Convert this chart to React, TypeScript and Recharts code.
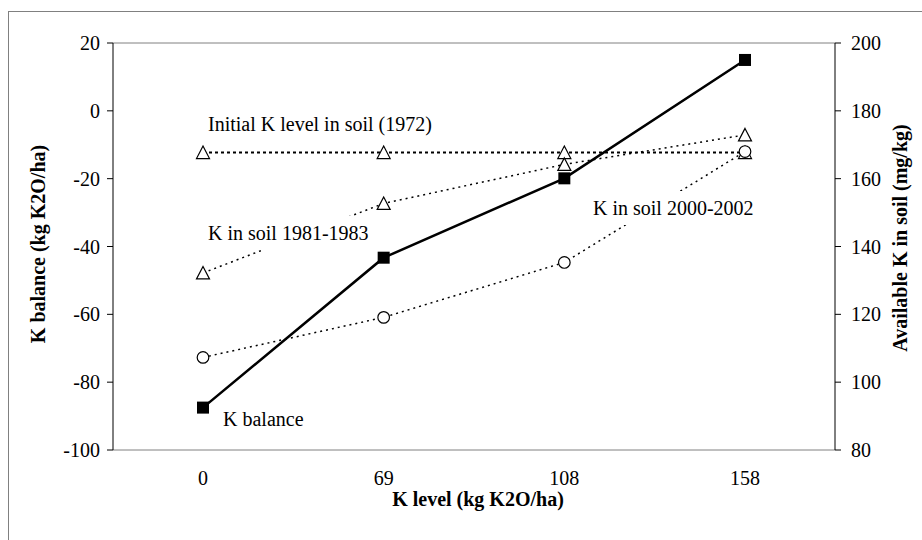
import { Line, LineChart, ReferenceLine, XAxis, YAxis } from "recharts"

const categories = ["0", "69", "108", "158"]
const kBalance = [-87.5, -43.3, -19.9, 15]
const initialK = [167.7, 167.7, 167.7, 167.7]
const kSoil1981 = [132.2, 152.7, 164.2, 172.9]
const kSoil2000 = [107.3, 119.1, 135.3, 168]
const leftTicks = [-100, -80, -60, -40, -20, 0, 20]
const rightTicks = [80, 100, 120, 140, 160, 180, 200]

const rows = categories.map((level, i) => ({
  level,
  balance: kBalance[i],
  initial: initialK[i],
  s1981: kSoil1981[i],
  s2000: kSoil2000[i],
}))

const serif = '"Liberation Serif", "Times New Roman", serif'
const tick = { fill: "#000", fontSize: 20, fontFamily: serif }

const square = (p: any) => (
  <rect key={`sq-${p.index}`} x={p.cx - 6} y={p.cy - 6} width={12} height={12} fill="#000" />
)

const triangle = (p: any) => (
  <path
    key={`tr-${p.index}`}
    d={`M${p.cx},${p.cy - 6.5} L${p.cx + 6.5},${p.cy + 6} L${p.cx - 6.5},${p.cy + 6} Z`}
    fill="#fff"
    stroke="#000"
    strokeWidth={1.2}
  />
)

const circle = (p: any) => (
  <circle key={`ci-${p.index}`} cx={p.cx} cy={p.cy} r={5.8} fill="#fff" stroke="#000" strokeWidth={1.2} />
)

// text label with a white box behind it (hides the dotted line, like the original)
function Note({ x, y, text, box }: { x: number; y: number; text: string; box?: number }) {
  return (
    <g>
      {box ? <rect x={x - 8} y={y - 24} width={box + 16} height={34} fill="#fff" /> : null}
      <text x={x} y={y} fontSize={20} fontFamily={serif} fill="#000">
        {text}
      </text>
    </g>
  )
}

export default function App() {
  return (
    <div
      style={{
        position: "fixed",
        left: 0,
        top: 0,
        width: 922,
        height: 540,
        background: "#fff",
        overflow: "hidden",
        fontFamily: serif,
      }}
    >
      <div
        style={{
          position: "absolute",
          left: 8,
          top: 11,
          width: 914,
          height: 529,
          boxSizing: "border-box",
          borderTop: "1px solid #808080",
          borderLeft: "1px solid #808080",
        }}
      />
      <div style={{ position: "absolute", left: 0, top: 0 }}>
        <LineChart
          width={922}
          height={540}
          data={rows}
          margin={{ top: 43, right: 0, bottom: 0, left: 0 }}
          style={{ fontFamily: serif }}
        >
          <XAxis
            dataKey="level"
            height={90}
            padding={{ left: 90, right: 90 }}
            axisLine={{ stroke: "#808080" }}
            tickLine={false}
            tickSize={0}
            tickMargin={21}
            tick={tick}
          />
          <YAxis
            yAxisId="left"
            width={113}
            domain={[-100, 20]}
            ticks={leftTicks}
            interval={0}
            axisLine={{ stroke: "#000" }}
            tickLine={{ stroke: "#000" }}
            tickSize={6}
            tickMargin={7}
            tick={tick}
          />
          <YAxis
            yAxisId="right"
            orientation="right"
            width={87}
            domain={[80, 200]}
            ticks={rightTicks}
            interval={0}
            axisLine={{ stroke: "#000" }}
            tickLine={{ stroke: "#000" }}
            tickSize={6}
            tickMargin={10}
            tick={tick}
          />
          <ReferenceLine yAxisId="left" y={20} stroke="#808080" />
          <Line
            yAxisId="right"
            dataKey="initial"
            stroke="#000"
            strokeWidth={2}
            strokeDasharray="3 3"
            dot={triangle}
            isAnimationActive={false}
          />
          <Line
            yAxisId="right"
            dataKey="s1981"
            stroke="#000"
            strokeWidth={1.5}
            strokeDasharray="2 4"
            dot={triangle}
            isAnimationActive={false}
          />
          <Line
            yAxisId="right"
            dataKey="s2000"
            stroke="#000"
            strokeWidth={1.5}
            strokeDasharray="2 4"
            dot={circle}
            isAnimationActive={false}
          />
          <Line
            yAxisId="left"
            dataKey="balance"
            stroke="#000"
            strokeWidth={2.5}
            dot={square}
            isAnimationActive={false}
          />
        </LineChart>
      </div>
      <svg
        width={922}
        height={540}
        style={{ position: "absolute", left: 0, top: 0, pointerEvents: "none" }}
      >
        <Note x={208} y={131} text="Initial K level in soil (1972)" />
        <Note x={208} y={240} text="K in soil 1981-1983" box={157} />
        <Note x={593} y={215} text="K in soil 2000-2002" box={157} />
        <Note x={223} y={426} text="K balance" />
        <text
          x={45}
          y={244}
          transform="rotate(-90 45 244)"
          textAnchor="middle"
          fontSize={20}
          fontWeight="bold"
          fontFamily={serif}
        >
          K balance (kg K2O/ha)
        </text>
        <text
          x={907}
          y={238}
          transform="rotate(-90 907 238)"
          textAnchor="middle"
          fontSize={20}
          fontWeight="bold"
          fontFamily={serif}
        >
          Available K in soil (mg/kg)
        </text>
        <text x={478} y={506} textAnchor="middle" fontSize={20} fontWeight="bold" fontFamily={serif}>
          K level (kg K2O/ha)
        </text>
      </svg>
    </div>
  )
}
